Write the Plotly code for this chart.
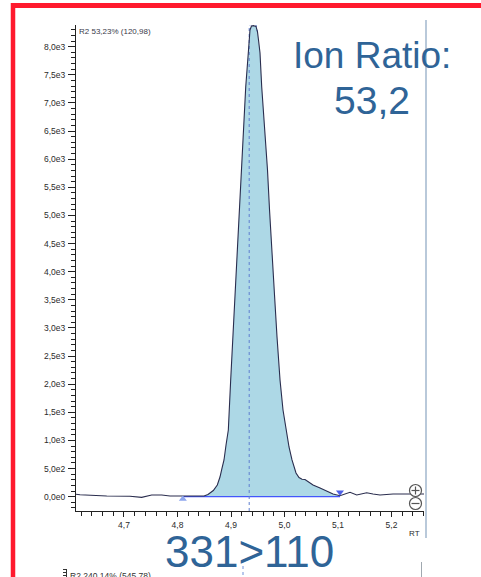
import plotly.graph_objects as go

# Extracted ion chromatogram (transition 331>110)
rt = [4.6103, 4.6178, 4.6677, 4.7112, 4.7331, 4.7411, 4.7518, 4.7705, 4.7860,
      4.8140, 4.8421, 4.8495, 4.8570, 4.8669, 4.8744, 4.8794, 4.8832, 4.8869,
      4.8907, 4.8950, 4.8994, 4.9043, 4.9107, 4.9196, 4.9243, 4.9275, 4.9323,
      4.9355, 4.9383, 4.9421, 4.9467, 4.9495, 4.9514, 4.9542, 4.9574, 4.9622,
      4.9682, 4.9720, 4.9761, 4.9813, 4.9860, 4.9916, 4.9972, 5.0028, 5.0084,
      5.0140, 5.0215, 5.0271, 5.0327, 5.0383, 5.0439, 5.0533, 5.0664, 5.0794,
      5.0907, 5.1037, 5.1131, 5.1224, 5.1350, 5.1536, 5.1654, 5.1785, 5.2028,
      5.2284, 5.2607]
intensity = [43, 36, 12, 7, -11, 4, 30, 30, 12,
             12, 12, 12, 39, 110, 208, 350, 510, 653,
             919, 1186, 2075, 2964, 4333, 5809, 6698, 7285, 7889,
             8298, 8369, 8374, 8360, 8262, 8120, 7889, 7285, 6698,
             5809, 5098, 4333, 3586, 2840, 2075, 1541, 1186, 884,
             653, 422, 340, 310, 305, 270, 208, 155, 92,
             48, 18, 48, 78, 30, 71, 48, 30, 48,
             48, 48]

peak_start = 4.81
peak_end = 5.1037
apex_rt = 4.934
apex_height = 8390
baseline_level = 0

y_tick_vals = [0, 500, 1000, 1500, 2000, 2500, 3000, 3500, 4000,
               4500, 5000, 5500, 6000, 6500, 7000, 7500, 8000]
y_tick_text = ["0,0e0", "5,0e2", "1,0e3", "1,5e3", "2,0e3", "2,5e3", "3,0e3",
               "3,5e3", "4,0e3", "4,5e3", "5,0e3", "5,5e3", "6,0e3", "6,5e3",
               "7,0e3", "7,5e3", "8,0e3"]
x_tick_vals = [4.7, 4.8, 4.9, 5.0, 5.1, 5.2]
x_tick_text = ["4,7", "4,8", "4,9", "5,0", "5,1", "5,2"]

trace_title = "R2 53,23% (120,98)"
next_trace_title = "R2 240,14% (545,78)"
transition = "331>110"
ratio_label = "Ion Ratio:"
ratio_value = "53,2"

W, H = 481, 577
L, R, T, B = 76, 57, 25, 66
X_RANGE = [4.6103, 5.2607]
Y_RANGE = [-254, 8386]


def px(x):
    return (x - L) / (W - L - R)


def py(y):
    return (H - B - y) / (H - T - B)


fig = go.Figure()

# integrated area between the trace and the baseline
area_x = [peak_start] + [r for r in rt if peak_start < r < peak_end] + [peak_end]
area_y = [baseline_level] + [v for r, v in zip(rt, intensity) if peak_start < r < peak_end] + [baseline_level]
fig.add_trace(go.Scatter(
    x=area_x + [peak_end, peak_start], y=area_y + [baseline_level, baseline_level],
    fill="toself", fillcolor="#ADD8E6", line=dict(width=0), mode="lines",
    hoverinfo="skip", showlegend=False))

# baseline
fig.add_trace(go.Scatter(
    x=[peak_start, peak_end], y=[baseline_level, baseline_level], mode="lines",
    line=dict(color="#2233ff", width=1), hoverinfo="skip", showlegend=False))

# apex marker line
fig.add_trace(go.Scatter(
    x=[apex_rt, apex_rt, 4.9467, 4.9495], y=[Y_RANGE[0], apex_height, apex_height, 8262],
    mode="lines", line=dict(color="#5f7fd0", width=1, dash="dot"),
    hoverinfo="skip", showlegend=False))

# chromatogram trace
fig.add_trace(go.Scatter(
    x=rt, y=intensity, mode="lines", line=dict(color="#2a2d4e", width=1.1),
    showlegend=False))

# integration start / end markers
fig.add_trace(go.Scatter(
    x=[peak_start], y=[-40], mode="markers",
    marker=dict(symbol="triangle-up", size=7, color="#8ea6ee"),
    hoverinfo="skip", showlegend=False))
fig.add_trace(go.Scatter(
    x=[peak_end], y=[80], mode="markers",
    marker=dict(symbol="triangle-down", size=7, color="#4d5fe6"),
    hoverinfo="skip", showlegend=False))

tick_font = dict(family="Liberation Sans, Arial, sans-serif", size=8.5, color="#2b2b2b")

fig.update_xaxes(
    range=X_RANGE, showgrid=False, zeroline=False, showline=True,
    linecolor="#222", linewidth=1, ticks="outside", ticklen=5, tickcolor="#222",
    tickvals=x_tick_vals, ticktext=x_tick_text, tickfont=tick_font,
    ticklabelstandoff=1,
    minor=dict(dtick=0.02, tick0=4.6, ticks="outside", ticklen=4, tickcolor="#222",
               showgrid=False))
fig.update_yaxes(
    range=Y_RANGE, showgrid=False, zeroline=False, showline=True,
    linecolor="#222", linewidth=1, ticks="outside", ticklen=7, tickcolor="#222",
    tickvals=y_tick_vals, ticktext=y_tick_text, tickfont=tick_font,
    ticklabelstandoff=1,
    minor=dict(dtick=100, tick0=0, ticks="outside", ticklen=4, tickcolor="#222",
               showgrid=False))

shapes = []
# slide frame (red) and panel border
shapes.append(dict(type="line", xref="paper", yref="paper",
                   x0=px(13), x1=px(481), y0=py(5.5), y1=py(5.5),
                   line=dict(color="#ff1a2e", width=5)))
shapes.append(dict(type="line", xref="paper", yref="paper",
                   x0=px(13), x1=px(13), y0=py(3), y1=py(577),
                   line=dict(color="#ff1a2e", width=4.5)))
shapes.append(dict(type="line", xref="paper", yref="paper",
                   x0=px(426), x1=px(426), y0=py(20), y1=py(538),
                   line=dict(color="#b9c9da", width=2)))
# zoom buttons
for cy in (490.5, 503.5):
    shapes.append(dict(type="circle", xref="paper", yref="paper",
                       x0=px(409.5), x1=px(421.5), y0=py(cy - 6), y1=py(cy + 6),
                       line=dict(color="#555", width=1.2), fillcolor="white"))
    shapes.append(dict(type="line", xref="paper", yref="paper",
                       x0=px(411.5), x1=px(419.5), y0=py(cy), y1=py(cy),
                       line=dict(color="#555", width=1.2)))
shapes.append(dict(type="line", xref="paper", yref="paper",
                   x0=px(415.5), x1=px(415.5), y0=py(486.5), y1=py(494.5),
                   line=dict(color="#555", width=1.2)))
# top of the following chart panel
shapes.append(dict(type="line", xref="paper", yref="paper",
                   x0=px(66.5), x1=px(66.5), y0=py(569), y1=py(577),
                   line=dict(color="#333", width=1)))
for ty in (569.5, 572.5, 575.5):
    shapes.append(dict(type="line", xref="paper", yref="paper",
                       x0=px(63), x1=px(66.5), y0=py(ty), y1=py(ty),
                       line=dict(color="#333", width=1)))
shapes.append(dict(type="line", xref="paper", yref="paper",
                   x0=px(243), x1=px(243), y0=py(566), y1=py(577),
                   line=dict(color="#6f8fd8", width=1, dash="dot")))
shapes.append(dict(type="line", xref="paper", yref="paper",
                   x0=px(421.5), x1=px(421.5), y0=py(562), y1=py(577),
                   line=dict(color="#a0a8b0", width=1)))

big_font = "Liberation Sans, Arial, sans-serif"
blue = "#2f6497"
annotations = [
    dict(text=trace_title, xref="paper", yref="paper", x=px(77), y=py(32),
         xanchor="left", yanchor="middle", showarrow=False,
         font=dict(family=big_font, size=8, color="#3a3a4a")),
    dict(text="RT", xref="paper", yref="paper", x=px(422), y=py(533),
         xanchor="right", yanchor="middle", showarrow=False,
         font=dict(family=big_font, size=8, color="#2b2b2b")),
    dict(text=ratio_label, xref="paper", yref="paper", x=px(291), y=py(55),
         xanchor="left", yanchor="middle", showarrow=False,
         font=dict(family=big_font, size=37, color=blue)),
    dict(text=ratio_value, xref="paper", yref="paper", x=px(412), y=py(100),
         xanchor="right", yanchor="middle", showarrow=False,
         font=dict(family=big_font, size=39, color=blue)),
    dict(text=transition, xref="paper", yref="paper", x=px(249), y=py(551),
         xanchor="center", yanchor="middle", showarrow=False,
         font=dict(family=big_font, size=44, color=blue)),
    dict(text=next_trace_title, xref="paper", yref="paper", x=px(68), y=py(576),
         xanchor="left", yanchor="middle", showarrow=False,
         font=dict(family=big_font, size=8.5, color="#333")),
]

fig.update_layout(
    width=W, height=H, autosize=False,
    margin=dict(l=L, r=R, t=T, b=B, pad=0),
    paper_bgcolor="white", plot_bgcolor="white",
    shapes=shapes, annotations=annotations, showlegend=False,
)

fig.write_html("out.html", config={"displayModeBar": False})
